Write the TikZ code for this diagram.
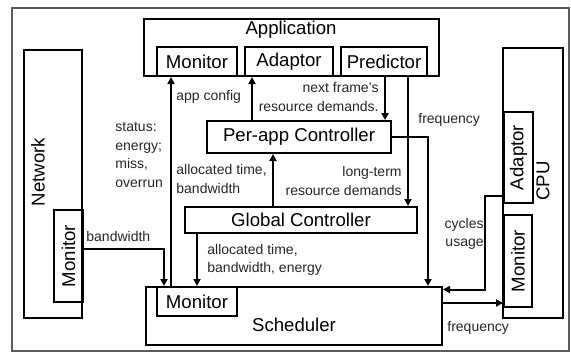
\documentclass[tikz,border=0pt]{standalone}
\usepackage{fontspec}
\setmainfont{Liberation Sans}
\usetikzlibrary{arrows.meta}
\definecolor{framegray}{HTML}{5A5A5A}
\definecolor{inkgray}{HTML}{262626}
\newcommand{\boxfnt}{\fontsize{9.3}{11}\selectfont}
\newcommand{\notefnt}{\fontsize{7}{9.3}\selectfont}
\tikzset{
  box/.style={rectangle,draw,line width=1pt,inner sep=0,font=\boxfnt},
  lab/.style={font=\boxfnt,inner sep=0},
  note/.style={font=\notefnt,text=inkgray,inner sep=0,align=left},
  noter/.style={note,align=right},
  link/.style={line width=1pt,-{Triangle[length=3.5pt,width=3.5pt]}},
}
\begin{document}
\begin{tikzpicture}[x=0.5pt,y=-0.5pt]
  \useasboundingbox (0,0) rectangle (571,353);
  \draw[framegray,line width=0.6pt] (12,8) rectangle (569,351);
  % application and its parts
  \node[box,minimum width=147.5pt,minimum height=28.5pt] (app) at (291.5,47.5) {};
  \node[lab] (applab) at (291,30) {Application};
  \node[box,minimum width=40pt,minimum height=14.5pt] (appmon) at (197,61.5) {Monitor};
  \node[box,minimum width=44pt,minimum height=14.5pt] (appada) at (289,61.5) {Adaptor};
  \node[box,minimum width=43pt,minimum height=14.5pt] (apppred) at (384,61.5) {Predictor};
  % controllers
  \node[box,minimum width=92pt,minimum height=16pt] (perapp) at (299,137) {Per-app Controller};
  \node[box,minimum width=116pt,minimum height=13pt] (global) at (301,220) {Global Controller};
  % scheduler
  \node[box,minimum width=148pt,minimum height=29pt] (sched) at (294,316) {};
  \node[lab] (schedlab) at (294,325) {Scheduler};
  \node[box,minimum width=40pt,minimum height=14.5pt] (schedmon) at (197,301.5) {Monitor};
  % network and cpu
  \node[box,minimum width=29pt,minimum height=134pt] (net) at (53,184) {};
  \node[lab,rotate=90] (netlab) at (38,172) {Network};
  \node[box,minimum width=46pt,minimum height=14.5pt,rotate=90] (netmon) at (68.5,256) {Monitor};
  \node[box,minimum width=30pt,minimum height=135pt] (cpu) at (533,183) {};
  \node[lab,rotate=90] (cpulab) at (543,181) {CPU};
  \node[box,minimum width=45.5pt,minimum height=14.5pt,rotate=90] (cpuada) at (518.5,157.5) {Adaptor};
  \node[box,minimum width=46pt,minimum height=14pt,rotate=90] (cpumon) at (518,261) {Monitor};
  % where the connectors run
  \coordinate (xbw) at (164,0);
  \coordinate (xstat) at (171,0);
  \coordinate (xglob) at (197,0);
  \coordinate (xada) at (252,0);
  \coordinate (xalloc) at (273,0);
  \coordinate (xnext) at (385,0);
  \coordinate (xlong) at (408,0);
  \coordinate (xfreq) at (428,0);
  \coordinate (xcyc) at (485,0);
  \coordinate (ycyc) at (0,196);
  \coordinate (ybw) at (0,249);
  \coordinate (ycin) at (0,289.5);
  \coordinate (yfq) at (0,303);
  \draw[link] (sched.north -| xstat) -- (appmon.south -| xstat);
  \draw[link] (perapp.north -| xada) -- (appada.south -| xada);
  \draw[link] (apppred.south -| xnext) -- (perapp.north -| xnext);
  \draw[link] (apppred.south -| xlong) -- (global.north -| xlong);
  \draw[link] (perapp.east) -- (perapp.east -| xfreq) -- (sched.north -| xfreq);
  \draw[link] (global.north -| xalloc) -- (perapp.south -| xalloc);
  \draw[link] (global.south -| xglob) -- (sched.north -| xglob);
  \draw[link] (netmon.south |- ybw) -- (xbw |- ybw) -- (sched.north -| xbw);
  \draw[link] (cpu.west |- ycyc) -- (xcyc |- ycyc) -- (xcyc |- ycin) -- (sched.east |- ycin);
  \draw[link] (sched.east |- yfq) -- (cpumon.north |- yfq);
  % connector labels
  \node[note,anchor=west] (tconf) at (176,97) {app config};
  \node[note,anchor=west] (tstat) at (115,155) {status:\\energy;\\miss,\\overrun};
  \node[note,anchor=west] (talloc) at (176,179) {allocated time,\\bandwidth};
  \node[noter,anchor=east] (tnext) at (379,97) {next frame's\\resource demands.};
  \node[noter,anchor=east] (tlong) at (402,181) {long-term\\resource demands};
  \node[note,anchor=west] (tfreq) at (418,120) {frequency};
  \node[note,anchor=west] (tglob) at (207,260) {allocated time,\\bandwidth, energy};
  \node[note,anchor=west] (tbw) at (86,236) {bandwidth};
  \node[noter,anchor=east] (tcyc) at (484,234) {cycles\\usage};
  \node[note,anchor=west] (tfreqb) at (447,328) {frequency};
\end{tikzpicture}
\end{document}
